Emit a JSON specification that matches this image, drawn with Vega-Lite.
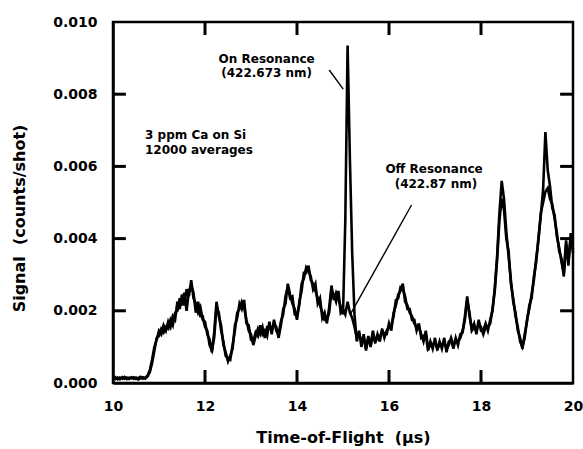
{
  "$schema": "https://vega.github.io/schema/vega-lite/v6.json",
  "width": 460,
  "height": 361,
  "autosize": "none",
  "padding": {"left": 113, "top": 22, "right": 10, "bottom": 66},
  "background": "white",
  "config": {
    "view": {"stroke": "black", "strokeWidth": 2.5},
    "axis": {
      "grid": false,
      "domainColor": "black",
      "domainWidth": 2.5,
      "ticks": false,
      "labelColor": "black",
      "labelFont": "DejaVu Sans",
      "labelFontWeight": "bold",
      "labelFontSize": 14,
      "labelFlush": false,
      "labelPadding": 16,
      "titleColor": "black",
      "titleFont": "DejaVu Sans",
      "titleFontWeight": "bold",
      "titleFontSize": 16
    }
  },
  "datasets": {
    "trace": [
      {"t":10.00,"on":0.00012,"off":0.00014},{"t":10.05,"on":0.00016,"off":0.00011},{"t":10.10,"on":0.00010,"off":0.00015},{"t":10.15,"on":0.00015,"off":0.00010},
      {"t":10.20,"on":0.00012,"off":0.00016},{"t":10.25,"on":0.00017,"off":0.00012},{"t":10.30,"on":0.00011,"off":0.00015},{"t":10.35,"on":0.00015,"off":0.00011},
      {"t":10.40,"on":0.00013,"off":0.00016},{"t":10.45,"on":0.00016,"off":0.00012},{"t":10.50,"on":0.00011,"off":0.00015},{"t":10.55,"on":0.00014,"off":0.00010},
      {"t":10.60,"on":0.00017,"off":0.00013},{"t":10.65,"on":0.00012,"off":0.00016},{"t":10.70,"on":0.00015,"off":0.00012},{"t":10.75,"on":0.00020,"off":0.00018},
      {"t":10.80,"on":0.00035,"off":0.00030},{"t":10.85,"on":0.00065,"off":0.00055},{"t":10.90,"on":0.00100,"off":0.00090},{"t":10.95,"on":0.00120,"off":0.00125},
      {"t":11.00,"on":0.00145,"off":0.00130},{"t":11.05,"on":0.00135,"off":0.00150},{"t":11.10,"on":0.00160,"off":0.00140},{"t":11.15,"on":0.00145,"off":0.00155},
      {"t":11.20,"on":0.00170,"off":0.00150},{"t":11.25,"on":0.00155,"off":0.00175},{"t":11.30,"on":0.00185,"off":0.00160},{"t":11.35,"on":0.00175,"off":0.00195},
      {"t":11.40,"on":0.00225,"off":0.00200},{"t":11.45,"on":0.00205,"off":0.00235},{"t":11.50,"on":0.00245,"off":0.00215},{"t":11.55,"on":0.00215,"off":0.00250},
      {"t":11.60,"on":0.00260,"off":0.00200},{"t":11.65,"on":0.00240,"off":0.00255},{"t":11.70,"on":0.00285,"off":0.00270},{"t":11.75,"on":0.00235,"off":0.00250},
      {"t":11.80,"on":0.00220,"off":0.00195},{"t":11.85,"on":0.00195,"off":0.00225},{"t":11.90,"on":0.00210,"off":0.00185},{"t":11.95,"on":0.00175,"off":0.00185},
      {"t":12.00,"on":0.00170,"off":0.00155},{"t":12.05,"on":0.00135,"off":0.00145},{"t":12.10,"on":0.00120,"off":0.00105},{"t":12.15,"on":0.00085,"off":0.00090},
      {"t":12.20,"on":0.00140,"off":0.00125},{"t":12.25,"on":0.00225,"off":0.00210},{"t":12.30,"on":0.00185,"off":0.00195},{"t":12.35,"on":0.00160,"off":0.00145},
      {"t":12.40,"on":0.00105,"off":0.00115},{"t":12.45,"on":0.00085,"off":0.00075},{"t":12.50,"on":0.00060,"off":0.00070},{"t":12.55,"on":0.00075,"off":0.00065},
      {"t":12.60,"on":0.00095,"off":0.00105},{"t":12.65,"on":0.00160,"off":0.00145},{"t":12.70,"on":0.00180,"off":0.00195},{"t":12.75,"on":0.00220,"off":0.00205},
      {"t":12.80,"on":0.00205,"off":0.00225},{"t":12.85,"on":0.00230,"off":0.00210},{"t":12.90,"on":0.00165,"off":0.00175},{"t":12.95,"on":0.00160,"off":0.00145},
      {"t":13.00,"on":0.00120,"off":0.00135},{"t":13.05,"on":0.00115,"off":0.00105},{"t":13.10,"on":0.00140,"off":0.00130},{"t":13.15,"on":0.00130,"off":0.00150},
      {"t":13.20,"on":0.00160,"off":0.00135},{"t":13.25,"on":0.00135,"off":0.00155},{"t":13.30,"on":0.00145,"off":0.00125},{"t":13.35,"on":0.00130,"off":0.00155},
      {"t":13.40,"on":0.00170,"off":0.00155},{"t":13.45,"on":0.00135,"off":0.00145},{"t":13.50,"on":0.00175,"off":0.00165},{"t":13.55,"on":0.00145,"off":0.00155},
      {"t":13.60,"on":0.00135,"off":0.00125},{"t":13.65,"on":0.00170,"off":0.00160},{"t":13.70,"on":0.00190,"off":0.00205},{"t":13.75,"on":0.00240,"off":0.00220},
      {"t":13.80,"on":0.00265,"off":0.00275},{"t":13.85,"on":0.00235,"off":0.00245},{"t":13.90,"on":0.00240,"off":0.00220},{"t":13.95,"on":0.00190,"off":0.00205},
      {"t":14.00,"on":0.00185,"off":0.00175},{"t":14.05,"on":0.00215,"off":0.00225},{"t":14.10,"on":0.00275,"off":0.00255},{"t":14.15,"on":0.00290,"off":0.00305},
      {"t":14.20,"on":0.00320,"off":0.00305},{"t":14.25,"on":0.00310,"off":0.00325},{"t":14.30,"on":0.00295,"off":0.00285},{"t":14.35,"on":0.00260,"off":0.00275},
      {"t":14.40,"on":0.00275,"off":0.00255},{"t":14.45,"on":0.00220,"off":0.00235},{"t":14.50,"on":0.00235,"off":0.00215},{"t":14.55,"on":0.00180,"off":0.00195},
      {"t":14.60,"on":0.00195,"off":0.00175},{"t":14.65,"on":0.00165,"off":0.00175},{"t":14.70,"on":0.00210,"off":0.00195},{"t":14.75,"on":0.00270,"off":0.00255},
      {"t":14.80,"on":0.00230,"off":0.00245},{"t":14.85,"on":0.00250,"off":0.00225},{"t":14.90,"on":0.00235,"off":0.00255},{"t":14.95,"on":0.00210,"off":0.00195},
      {"t":15.00,"on":0.00190,"off":0.00205},{"t":15.05,"on":0.00450,"off":0.00190},{"t":15.10,"on":0.00935,"off":0.00225},{"t":15.15,"on":0.00620,"off":0.00195},
      {"t":15.20,"on":0.00360,"off":0.00180},{"t":15.25,"on":0.00190,"off":0.00155},{"t":15.30,"on":0.00115,"off":0.00125},{"t":15.35,"on":0.00145,"off":0.00135},
      {"t":15.40,"on":0.00100,"off":0.00115},{"t":15.45,"on":0.00135,"off":0.00125},{"t":15.50,"on":0.00090,"off":0.00095},{"t":15.55,"on":0.00130,"off":0.00125},
      {"t":15.60,"on":0.00105,"off":0.00100},{"t":15.65,"on":0.00145,"off":0.00135},{"t":15.70,"on":0.00110,"off":0.00115},{"t":15.75,"on":0.00135,"off":0.00125},
      {"t":15.80,"on":0.00115,"off":0.00125},{"t":15.85,"on":0.00150,"off":0.00145},{"t":15.90,"on":0.00125,"off":0.00135},{"t":15.95,"on":0.00145,"off":0.00135},
      {"t":16.00,"on":0.00155,"off":0.00165},{"t":16.05,"on":0.00160,"off":0.00145},{"t":16.10,"on":0.00185,"off":0.00195},{"t":16.15,"on":0.00230,"off":0.00215},
      {"t":16.20,"on":0.00235,"off":0.00245},{"t":16.25,"on":0.00265,"off":0.00255},{"t":16.30,"on":0.00260,"off":0.00275},{"t":16.35,"on":0.00240,"off":0.00225},
      {"t":16.40,"on":0.00205,"off":0.00215},{"t":16.45,"on":0.00205,"off":0.00195},{"t":16.50,"on":0.00175,"off":0.00185},{"t":16.55,"on":0.00175,"off":0.00165},
      {"t":16.60,"on":0.00145,"off":0.00155},{"t":16.65,"on":0.00165,"off":0.00155},{"t":16.70,"on":0.00125,"off":0.00135},{"t":16.75,"on":0.00130,"off":0.00115},
      {"t":16.80,"on":0.00135,"off":0.00145},{"t":16.85,"on":0.00090,"off":0.00095},{"t":16.90,"on":0.00115,"off":0.00105},{"t":16.95,"on":0.00095,"off":0.00105},
      {"t":17.00,"on":0.00125,"off":0.00115},{"t":17.05,"on":0.00090,"off":0.00095},{"t":17.10,"on":0.00115,"off":0.00105},{"t":17.15,"on":0.00095,"off":0.00105},
      {"t":17.20,"on":0.00125,"off":0.00115},{"t":17.25,"on":0.00085,"off":0.00095},{"t":17.30,"on":0.00115,"off":0.00105},{"t":17.35,"on":0.00120,"off":0.00125},
      {"t":17.40,"on":0.00095,"off":0.00105},{"t":17.45,"on":0.00125,"off":0.00115},{"t":17.50,"on":0.00105,"off":0.00115},{"t":17.55,"on":0.00135,"off":0.00125},
      {"t":17.60,"on":0.00140,"off":0.00145},{"t":17.65,"on":0.00185,"off":0.00175},{"t":17.70,"on":0.00240,"off":0.00230},{"t":17.75,"on":0.00185,"off":0.00195},
      {"t":17.80,"on":0.00150,"off":0.00145},{"t":17.85,"on":0.00165,"off":0.00155},{"t":17.90,"on":0.00135,"off":0.00145},{"t":17.95,"on":0.00175,"off":0.00165},
      {"t":18.00,"on":0.00145,"off":0.00155},{"t":18.05,"on":0.00145,"off":0.00135},{"t":18.10,"on":0.00165,"off":0.00155},{"t":18.15,"on":0.00145,"off":0.00155},
      {"t":18.20,"on":0.00175,"off":0.00165},{"t":18.25,"on":0.00200,"off":0.00205},{"t":18.30,"on":0.00265,"off":0.00255},{"t":18.35,"on":0.00350,"off":0.00340},
      {"t":18.40,"on":0.00470,"off":0.00450},{"t":18.45,"on":0.00560,"off":0.00510},{"t":18.50,"on":0.00510,"off":0.00480},{"t":18.55,"on":0.00420,"off":0.00400},
      {"t":18.60,"on":0.00350,"off":0.00365},{"t":18.65,"on":0.00285,"off":0.00275},{"t":18.70,"on":0.00225,"off":0.00235},{"t":18.75,"on":0.00195,"off":0.00185},
      {"t":18.80,"on":0.00145,"off":0.00155},{"t":18.85,"on":0.00125,"off":0.00115},{"t":18.90,"on":0.00095,"off":0.00100},{"t":18.95,"on":0.00135,"off":0.00125},
      {"t":19.00,"on":0.00170,"off":0.00175},{"t":19.05,"on":0.00215,"off":0.00205},{"t":19.10,"on":0.00235,"off":0.00245},{"t":19.15,"on":0.00295,"off":0.00285},
      {"t":19.20,"on":0.00335,"off":0.00345},{"t":19.25,"on":0.00405,"off":0.00395},{"t":19.30,"on":0.00465,"off":0.00470},{"t":19.35,"on":0.00535,"off":0.00500},
      {"t":19.40,"on":0.00695,"off":0.00530},{"t":19.45,"on":0.00590,"off":0.00540},{"t":19.50,"on":0.00545,"off":0.00510},{"t":19.55,"on":0.00485,"off":0.00495},
      {"t":19.60,"on":0.00465,"off":0.00455},{"t":19.65,"on":0.00405,"off":0.00415},{"t":19.70,"on":0.00375,"off":0.00365},{"t":19.75,"on":0.00335,"off":0.00345},
      {"t":19.80,"on":0.00305,"off":0.00295},{"t":19.85,"on":0.00395,"off":0.00385},{"t":19.90,"on":0.00325,"off":0.00335},{"t":19.95,"on":0.00415,"off":0.00405},
      {"t":20.00,"on":0.00360,"off":0.00370}
    ],
    "segments": [
      {"kind": "leader", "t": 14.70, "v": 0.00867, "t2": 15.005, "v2": 0.00814},
      {"kind": "leader", "t": 16.49, "v": 0.00493, "t2": 15.15, "v2": 0.00188},
      {"kind": "tick", "t": 12, "v": 0, "t2": 12, "v2": 0.00036},
      {"kind": "tick", "t": 14, "v": 0, "t2": 14, "v2": 0.00036},
      {"kind": "tick", "t": 16, "v": 0, "t2": 16, "v2": 0.00036},
      {"kind": "tick", "t": 18, "v": 0, "t2": 18, "v2": 0.00036},
      {"kind": "tick", "t": 12, "v": 0.00964, "t2": 12, "v2": 0.01},
      {"kind": "tick", "t": 14, "v": 0.00964, "t2": 14, "v2": 0.01},
      {"kind": "tick", "t": 16, "v": 0.00964, "t2": 16, "v2": 0.01},
      {"kind": "tick", "t": 18, "v": 0.00964, "t2": 18, "v2": 0.01},
      {"kind": "tick", "t": 10, "v": 0.002, "t2": 10.28, "v2": 0.002},
      {"kind": "tick", "t": 10, "v": 0.004, "t2": 10.28, "v2": 0.004},
      {"kind": "tick", "t": 10, "v": 0.006, "t2": 10.28, "v2": 0.006},
      {"kind": "tick", "t": 10, "v": 0.008, "t2": 10.28, "v2": 0.008},
      {"kind": "tick", "t": 19.72, "v": 0.002, "t2": 20, "v2": 0.002},
      {"kind": "tick", "t": 19.72, "v": 0.004, "t2": 20, "v2": 0.004},
      {"kind": "tick", "t": 19.72, "v": 0.006, "t2": 20, "v2": 0.006},
      {"kind": "tick", "t": 19.72, "v": 0.008, "t2": 20, "v2": 0.008}
    ],
    "centerLabels": [
      {"t": 13.34, "v": 0.00898, "text": "On Resonance"},
      {"t": 13.34, "v": 0.00858, "text": "(422.673 nm)"},
      {"t": 16.98, "v": 0.00592, "text": "Off Resonance"},
      {"t": 17.02, "v": 0.00550, "text": "(422.87 nm)"}
    ],
    "leftLabels": [
      {"t": 10.696, "v": 0.00686, "text": "3 ppm Ca on Si"},
      {"t": 10.696, "v": 0.00646, "text": "12000 averages"}
    ]
  },
  "layer": [
    {
      "data": {"name": "trace"},
      "transform": [{"fold": ["on", "off"], "as": ["series", "v"]}],
      "mark": {"type": "line", "color": "black", "strokeWidth": 2.6},
      "encoding": {
        "x": {
          "field": "t", "type": "quantitative",
          "scale": {"domain": [10, 20], "nice": false},
          "axis": {
            "orient": "bottom",
            "values": [10, 12, 14, 16, 18, 20],
            "format": "d",
            "title": "Time-of-Flight\u00a0 (\u03bcs)",
            "titleY": 59,
            "titleBaseline": "alphabetic"
          }
        },
        "y": {
          "field": "v", "type": "quantitative",
          "scale": {"domain": [0, 0.01], "nice": false},
          "axis": {
            "orient": "left",
            "values": [0, 0.002, 0.004, 0.006, 0.008, 0.01],
            "format": ".3f",
            "title": "Signal\u00a0 (counts/shot)",
            "titleAngle": -90,
            "titleX": -89,
            "titleY": 196,
            "titleAlign": "center",
            "titleBaseline": "alphabetic"
          }
        },
        "detail": {"field": "series"}
      }
    },
    {
      "data": {"name": "segments"},
      "mark": {"type": "rule", "color": "black"},
      "encoding": {
        "x": {"field": "t", "type": "quantitative"},
        "y": {"field": "v", "type": "quantitative"},
        "x2": {"field": "t2"},
        "y2": {"field": "v2"},
        "strokeWidth": {"field": "kind", "type": "nominal", "scale": {"domain": ["tick", "leader"], "range": [3, 1.4]}, "legend": null}
      }
    },
    {
      "data": {"name": "centerLabels"},
      "mark": {"type": "text", "font": "DejaVu Sans", "fontWeight": "bold", "fontSize": 12, "color": "black", "align": "center", "baseline": "middle"},
      "encoding": {
        "x": {"field": "t", "type": "quantitative"},
        "y": {"field": "v", "type": "quantitative"},
        "text": {"field": "text"}
      }
    },
    {
      "data": {"name": "leftLabels"},
      "mark": {"type": "text", "font": "DejaVu Sans", "fontWeight": "bold", "fontSize": 12, "color": "black", "align": "left", "baseline": "middle"},
      "encoding": {
        "x": {"field": "t", "type": "quantitative"},
        "y": {"field": "v", "type": "quantitative"},
        "text": {"field": "text"}
      }
    }
  ]
}
